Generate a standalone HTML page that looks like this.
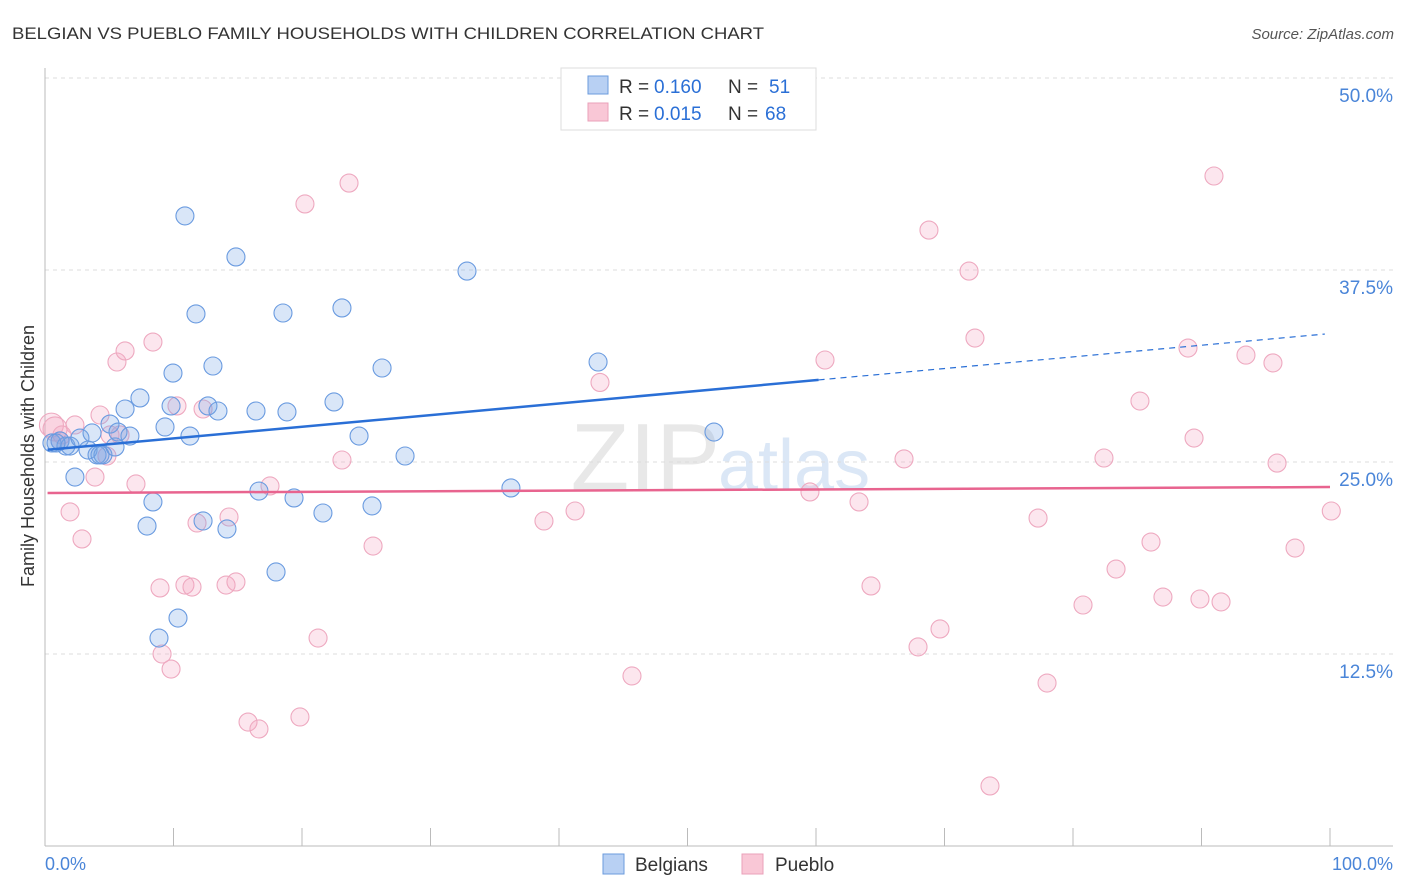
<!DOCTYPE html>
<html><head><meta charset="utf-8">
<style>
body{margin:0;background:#fff;font-family:"Liberation Sans",sans-serif;}
#wrap{position:relative;width:1406px;height:892px;overflow:hidden}
svg text{font-family:"Liberation Sans",sans-serif}
</style></head>
<body>
<div id="wrap">
<svg id="chart" width="1406" height="892">
<text x="12" y="39" font-size="17" fill="#333" textLength="752" lengthAdjust="spacingAndGlyphs">BELGIAN VS PUEBLO FAMILY HOUSEHOLDS WITH CHILDREN CORRELATION CHART</text>
<text x="1394" y="39" font-size="15" fill="#555" font-style="italic" text-anchor="end">Source: ZipAtlas.com</text>
<text x="720" y="490" font-size="96" fill="#e8e8e8" text-anchor="end" font-family="Liberation Serif">ZIP</text>
<text x="718" y="490" font-size="72" fill="#dbe7f6">atlas</text>
<text transform="translate(34,456) rotate(-90)" font-size="18" fill="#333" text-anchor="middle">Family Households with Children</text>
<g id="grid"></g><g id="pts"></g><g id="lines"></g>
<g>
<rect x="561" y="68" width="255" height="62" fill="#fff" stroke="#ddd"/>
<rect x="588" y="76" width="20" height="18" fill="#b8d0f3" stroke="#6b9bdc"/>
<rect x="588" y="103" width="20" height="18" fill="#f9c7d6" stroke="#eaa0b9"/>
<text x="619" y="93" font-size="19" fill="#333">R =</text>
<text x="654" y="93" font-size="19" fill="#2a6fd6">0.160</text>
<text x="728" y="93" font-size="19" fill="#333">N =</text>
<text x="769" y="93" font-size="19" fill="#2a6fd6">51</text>
<text x="619" y="120" font-size="19" fill="#333">R =</text>
<text x="654" y="120" font-size="19" fill="#2a6fd6">0.015</text>
<text x="728" y="120" font-size="19" fill="#333">N =</text>
<text x="765" y="120" font-size="19" fill="#2a6fd6">68</text>
</g>
<g>
<rect x="603" y="854" width="21" height="20" fill="#b8d0f3" stroke="#6b9bdc"/>
<text x="635" y="871" font-size="19" fill="#333">Belgians</text>
<rect x="742" y="854" width="21" height="20" fill="#f9c7d6" stroke="#eaa0b9"/>
<text x="775" y="871" font-size="19" fill="#333">Pueblo</text>
</g>
<text x="45" y="870" font-size="18" fill="#4a85d8">0.0%</text>
<text x="1393" y="870" font-size="18" fill="#4a85d8" text-anchor="end">100.0%</text>
</svg>
</div>
<script>
const yTicks=[12.5,25,37.5,50];
const yTickLabels=["12.5%","25.0%","37.5%","50.0%"];
const xTicks=[0,10,20,30,40,50,60,70,80,90,100];
const belgX=[0.54,1.17,1.63,1.95,2.33,2.72,3.35,3.66,4.05,4.51,5.06,5.45,5.68,6.23,6.61,7.39,7.94,8.40,8.87,9.34,9.81,9.96,10.35,10.89,11.28,11.75,12.30,12.68,13.07,13.46,14.16,14.86,16.42,16.65,17.98,18.52,18.83,19.38,21.63,22.49,23.11,24.44,25.45,26.23,28.02,32.84,36.26,43.04,52.06,4.28,0.86];
const belgY=[26.24,26.37,26.04,26.04,24.02,26.56,25.78,26.89,25.46,25.46,27.47,25.98,26.95,28.45,26.69,29.17,20.83,22.40,13.54,27.28,28.65,30.79,14.84,41.02,26.69,34.64,21.16,28.65,31.25,28.32,20.64,38.35,28.32,23.11,17.84,34.70,28.26,22.66,21.68,28.91,35.03,26.69,22.14,31.12,25.39,37.43,23.31,31.51,26.95,25.46,26.24];
const puebX=[0.5,0.78,1.32,1.95,2.33,2.88,3.89,4.28,4.82,5.06,5.60,6.23,7.08,8.40,8.95,9.11,9.81,10.27,10.89,11.44,11.83,12.30,14.09,14.32,14.86,15.80,16.65,17.51,19.84,20.23,21.25,23.11,23.66,25.53,38.83,41.25,43.19,45.68,59.53,60.70,63.35,64.28,66.85,67.94,68.79,69.65,71.91,72.37,73.54,77.28,77.98,80.78,82.41,83.35,85.21,86.07,87.00,88.95,89.42,89.88,90.97,91.52,93.46,95.56,95.88,97.28,100.1,1.17,5.84];
const puebY=[27.4,27.15,26.76,21.75,27.41,19.99,24.02,28.06,25.39,26.76,31.51,32.23,23.57,32.81,16.80,12.50,11.52,28.65,16.99,16.86,21.03,28.45,16.99,21.42,17.19,8.07,7.62,23.44,8.40,41.80,13.54,25.13,43.16,19.53,21.16,21.81,30.18,11.07,23.05,31.64,22.40,16.93,25.20,12.96,40.10,14.13,37.43,33.07,3.91,21.35,10.61,15.69,25.26,18.03,28.97,19.79,16.21,32.42,26.56,16.08,43.62,15.89,31.96,31.45,24.93,19.40,21.81,26.37,26.76];
const belgLine=[25.78,33.36], puebLine=[22.98,23.37];
const X=v=>45+v*12.85, Y=v=>846-v*15.36;
const NS="http://www.w3.org/2000/svg";
function mk(tag,attrs,parent){const e=document.createElementNS(NS,tag);for(const k in attrs)e.setAttribute(k,attrs[k]);parent.appendChild(e);return e;}
const grid=document.getElementById('grid');
yTicks.forEach((t,i)=>{
 const l=mk('line',{x1:45,x2:1393,y1:Y(t),y2:Y(t),stroke:'#ddd','stroke-dasharray':'4,4'},grid);
 
 
 const tx=mk('text',{x:1393,y:Y(t)+24,'font-size':19,fill:'#4a85d8','text-anchor':'end'},grid);
 tx.textContent=yTickLabels[i];
 
 
});
const ax=mk('line',{x1:45,x2:1393,y1:846,y2:846,stroke:'#bbb'},grid);


const ay=mk('line',{x1:45,x2:45,y1:68,y2:846,stroke:'#bbb'},grid);


xTicks.forEach(t=>{const l=mk('line',{x1:X(t),x2:X(t),y1:828,y2:846,stroke:'#bbb'},grid);
 
 });
const pts=document.getElementById('pts');
puebX.forEach((x,i)=>{const c=mk('circle',{cx:X(x),cy:Y(puebY[i]),r:i<2?12:9,fill:'rgba(244,165,195,0.28)',stroke:'#eea9c0','stroke-width':1.1},pts);
 
 });
belgX.forEach((x,i)=>{const c=mk('circle',{cx:X(x),cy:Y(belgY[i]),r:9,fill:'rgba(120,165,230,0.28)',stroke:'#6a9be0','stroke-width':1.1},pts);
 
 });
const lines=document.getElementById('lines');
const bAt=v=>belgLine[0]+(belgLine[1]-belgLine[0])*v/100;
let l1=mk('line',{x1:X(0.2),y1:Y(bAt(0.2)),x2:X(60.2),y2:Y(bAt(60.2)),stroke:'#2a6fd6','stroke-width':2.5},lines);


let l2=mk('line',{x1:X(60.2),y1:Y(bAt(60.2)),x2:X(99.6),y2:Y(bAt(99.6)),stroke:'#2a6fd6','stroke-width':1.2,'stroke-dasharray':'6,5'},lines);


let l3=mk('line',{x1:X(0.2),y1:Y(puebLine[0]),x2:X(100),y2:Y(puebLine[1]),stroke:'#e8648f','stroke-width':2.5},lines);


</script>
</body></html>
